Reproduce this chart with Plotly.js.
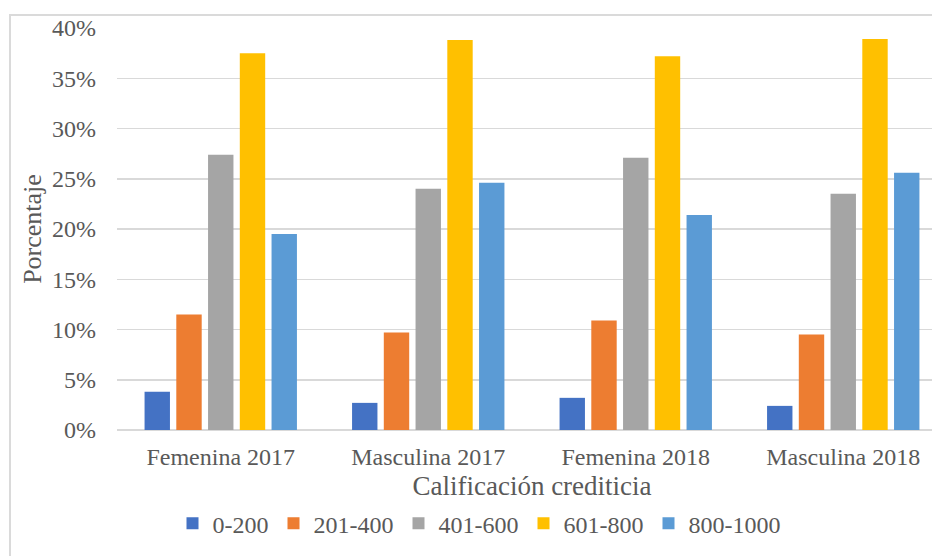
<!DOCTYPE html>
<html>
<head>
<meta charset="utf-8">
<script src="https://cdn.plot.ly/plotly-3.0.1.min.js"></script>
<style>
  html, body { margin: 0; padding: 0; background: #ffffff; overflow: hidden; width: 932px; height: 556px; }
  #frame { position: absolute; left: 9px; top: 14px; width: 1100px; height: 700px;
           border-left: 2px solid #dadada; border-top: 2px solid #dadada; }
  #chart { position: absolute; left: 0; top: 0; width: 1000px; height: 556px; }
</style>
</head>
<body>
<div id="frame"></div>
<div id="chart"></div>
<script>
const categories = ["Femenina 2017", "Masculina 2017", "Femenina 2018", "Masculina 2018"];
const seriesNames = ["0-200", "201-400", "401-600", "601-800", "800-1000"];
const s_0_200    = [3.8, 2.7, 3.2, 2.4];
const s_201_400  = [11.5, 9.7, 10.9, 9.5];
const s_401_600  = [27.4, 24.0, 27.1, 23.5];
const s_601_800  = [37.5, 38.8, 37.2, 38.9];
const s_800_1000 = [19.5, 24.6, 21.4, 25.6];
const yTickVals = [0, 5, 10, 15, 20, 25, 30, 35, 40];
const yTickText = yTickVals.map(v => v + "%");

const colors = ["#4472C4", "#ED7D31", "#A5A5A5", "#FFC000", "#5B9BD5"];
const allSeries = [s_0_200, s_201_400, s_401_600, s_601_800, s_800_1000];

const FONT = "Liberation Serif";
const TXT = "#595959";

const traces = allSeries.map((vals, i) => ({
  type: "bar",
  name: seriesNames[i],
  x: categories,
  y: vals,
  marker: { color: colors[i], line: { width: 0 } }
}));

const layout = {
  width: 1000,
  height: 556,
  margin: { l: 117, r: 53, t: 28, b: 126 },
  paper_bgcolor: "rgba(0,0,0,0)",
  plot_bgcolor: "rgba(0,0,0,0)",
  barmode: "group",
  bargap: 0.235,
  bargroupgap: 0.2,
  font: { family: FONT, color: TXT, size: 24 },
  xaxis: {
    type: "category",
    showgrid: false,
    showline: false,
    ticks: "",
    tickfont: { family: FONT, size: 24, color: TXT },
    ticklabelstandoff: 10,
    title: { text: "Calificación crediticia", font: { family: FONT, size: 27, color: TXT } },
    automargin: false
  },
  yaxis: {
    range: [0, 40],
    tickmode: "array",
    tickvals: yTickVals,
    ticktext: yTickText,
    showgrid: true,
    gridcolor: "#d9d9d9",
    gridwidth: 1.5,
    zeroline: true,
    zerolinecolor: "#d9d9d9",
    zerolinewidth: 1.5,
    showline: false,
    ticks: "",
    tickfont: { family: FONT, size: 24, color: TXT },
    ticklabelstandoff: 20,
    title: { text: "Porcentaje", font: { family: FONT, size: 26, color: TXT }, standoff: 2 },
    automargin: false
  },
  showlegend: true,
  legend: {
    orientation: "h",
    xref: "container",
    yref: "container",
    x: 0.479,
    xanchor: "center",
    y: 0.058,
    yanchor: "middle",
    font: { family: FONT, size: 24, color: TXT },
    bgcolor: "rgba(0,0,0,0)",
    itemwidth: 30,
    traceorder: "normal"
  }
};

Plotly.newPlot("chart", traces, layout, { staticPlot: true, displayModeBar: false });
</script>
</body>
</html>
